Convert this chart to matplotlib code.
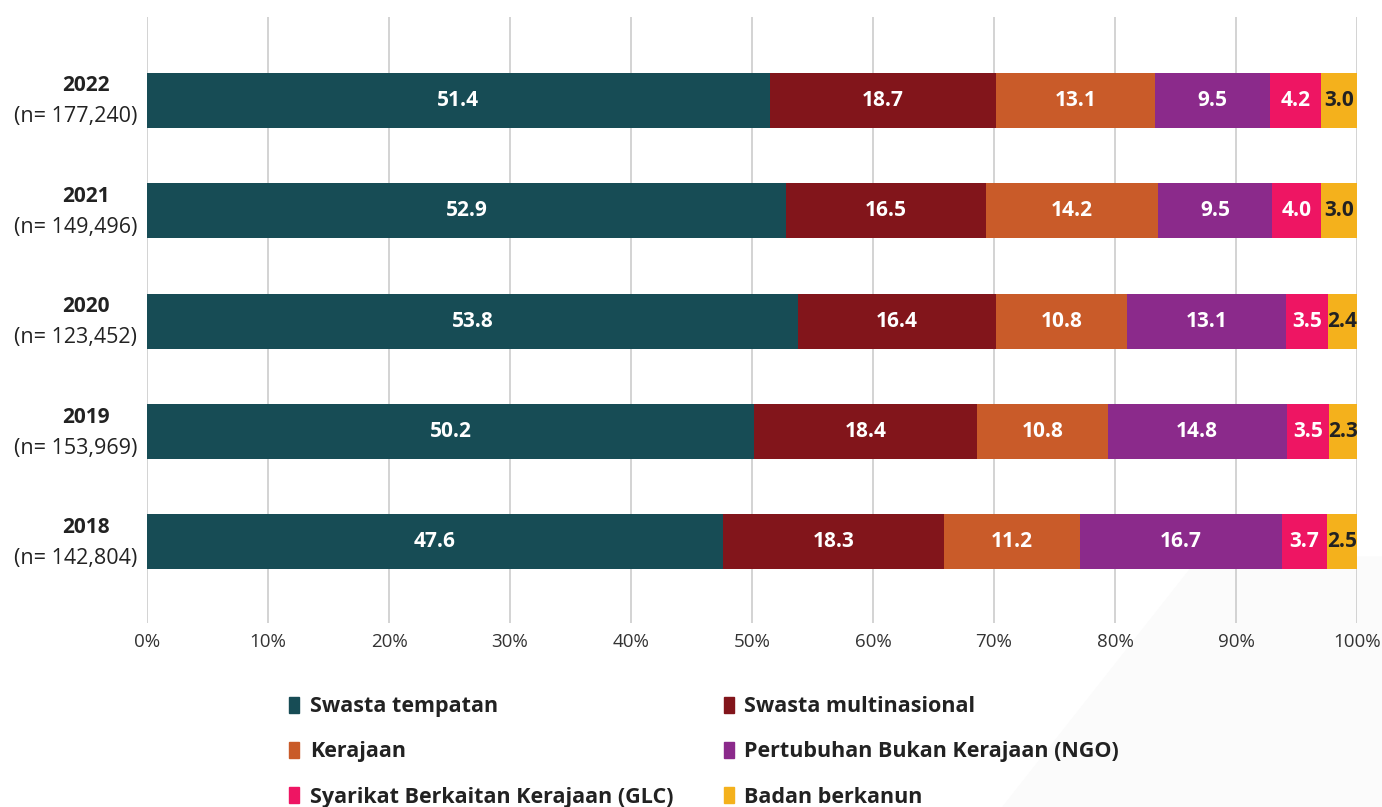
import matplotlib.pyplot as plt
import numpy as np
from matplotlib.patches import Patch, Polygon

plt.rcParams['font.family'] = ['Open Sans', 'DejaVu Sans']

years = ['2022', '2021', '2020', '2019', '2018']
n_labels = ['(n= 177,240)', '(n= 149,496)', '(n= 123,452)', '(n= 153,969)', '(n= 142,804)']
categories = ['Swasta tempatan', 'Swasta multinasional', 'Kerajaan',
              'Pertubuhan Bukan Kerajaan (NGO)', 'Syarikat Berkaitan Kerajaan (GLC)',
              'Badan berkanun']
swasta_tempatan = [51.4, 52.9, 53.8, 50.2, 47.6]
swasta_multi = [18.7, 16.5, 16.4, 18.4, 18.3]
kerajaan = [13.1, 14.2, 10.8, 10.8, 11.2]
ngo = [9.5, 9.5, 13.1, 14.8, 16.7]
glc = [4.2, 4.0, 3.5, 3.5, 3.7]
badan = [3.0, 3.0, 2.4, 2.3, 2.5]
colors = ['#174c55', '#82151b', '#c95b29', '#8b2a8b', '#ee1563', '#f4b11c']
text_colors = ['white', 'white', 'white', 'white', 'white', '#222222']

series = [swasta_tempatan, swasta_multi, kerajaan, ngo, glc, badan]
vals = np.array(series, dtype=float)
totals = vals.sum(axis=0)
scaled = vals / totals * 100

fig = plt.figure(figsize=(13.82, 8.07), dpi=100)
ax = fig.add_axes([147/1382, 1 - 623/807, 1210/1382, 606/807])

# faint background band bottom right
fig.patches.append(Polygon([[1003/1382, 0], [1200/1382, 250/807], [1382/1382, 250/807], [1, 0]],
                           closed=True, transform=fig.transFigure, color='#fbfbfb', zorder=-10))

ypos = np.arange(len(years))[::-1]
left = np.zeros(len(years))
for k in range(len(categories)):
    ax.barh(ypos, scaled[k], left=left, height=0.5, color=colors[k], zorder=3)
    for i in range(len(years)):
        ax.text(left[i] + scaled[k][i] / 2, ypos[i], f'{vals[k][i]:.1f}',
                ha='center', va='center', color=text_colors[k],
                fontsize=15, fontweight='bold', zorder=4)
    left += scaled[k]

ax.set_xlim(0, 100)
ax.set_ylim(-0.735, 4.755)
ax.set_xticks(np.arange(0, 101, 10))
ax.set_xticklabels([f'{t}%' for t in range(0, 101, 10)], fontsize=13.5, color='#333333')
ax.set_yticks([])
ax.tick_params(axis='x', length=0, pad=7)
ax.grid(axis='x', color='#cccccc', linewidth=1.2, zorder=0)
for s in ax.spines.values():
    s.set_visible(False)
ax.patch.set_alpha(0)

tr = ax.get_yaxis_transform()
for i in range(len(years)):
    ax.text(-0.0504, ypos[i] + 0.13, years[i], transform=tr, ha='center', va='center',
            fontsize=15, fontweight='bold', color='#222222')
    ax.text(-0.0083, ypos[i] - 0.15, n_labels[i], transform=tr, ha='right', va='center',
            fontsize=15.5, color='#222222')

order = [0, 2, 4, 1, 3, 5]
handles = [Patch(color=colors[k]) for k in order]
labels = [categories[k] for k in order]
leg = fig.legend(handles, labels, ncol=2, loc='upper left',
                 bbox_to_anchor=(270/1382, 1 - 677/807), frameon=False,
                 prop={'size': 15.5, 'weight': 'bold'}, handlelength=0.45, handleheight=0.8,
                 handletextpad=0.5, labelspacing=1.12, columnspacing=2.35)
for t in leg.get_texts():
    t.set_color('#222222')

fig.savefig('out.png', dpi=100)
